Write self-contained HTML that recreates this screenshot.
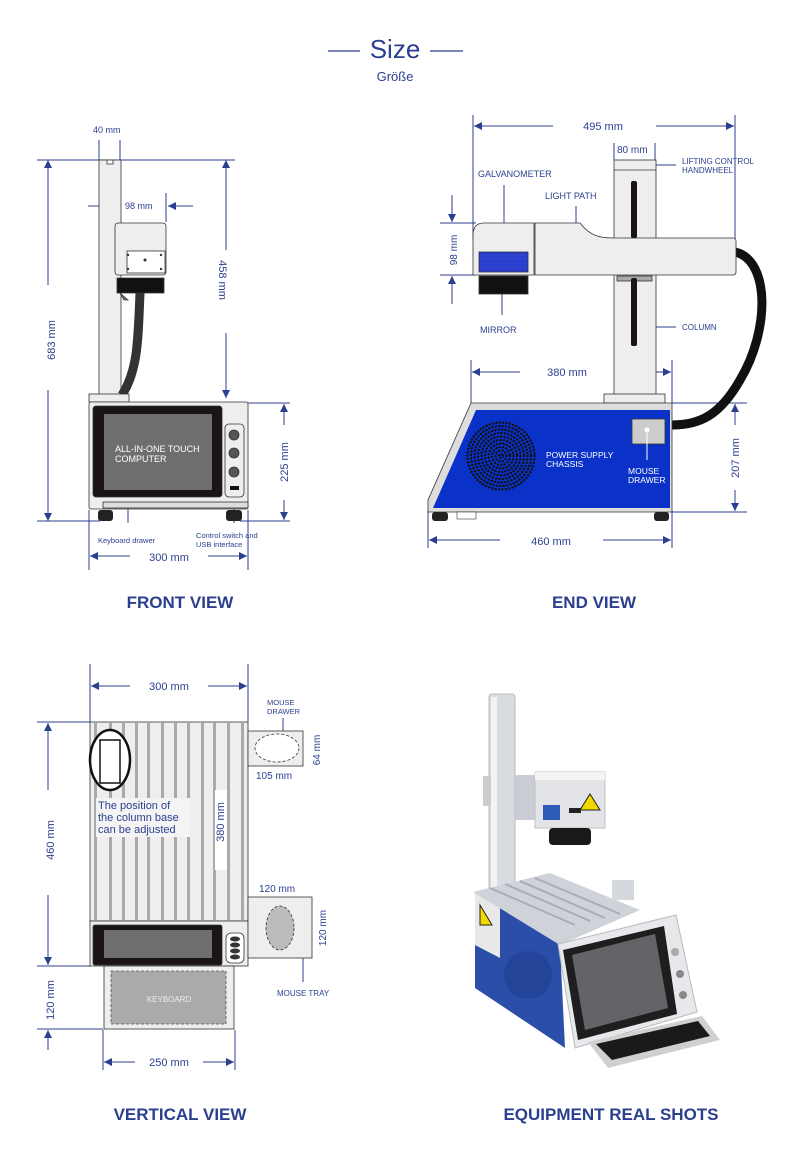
<!DOCTYPE html>
<html><head><meta charset="utf-8"><style>
html,body{margin:0;padding:0;background:#fff;}
svg{display:block;}
text{font-family:"Liberation Sans",sans-serif;}
</style></head><body>
<svg width="790" height="1168" viewBox="0 0 790 1168" xmlns="http://www.w3.org/2000/svg">
<defs>
<marker id="a" viewBox="0 0 10 10" refX="10" refY="5" markerWidth="10" markerHeight="8" markerUnits="userSpaceOnUse" orient="auto"><path d="M0,0 L10,5 L0,10 z" fill="#2b3f8f"/></marker>
</defs>
<rect width="790" height="1168" fill="#fff"/>
<!-- Title -->
<line x1="328" y1="51" x2="360" y2="51" stroke="#2b3f8f" stroke-width="1.2"/>
<line x1="430" y1="51" x2="463" y2="51" stroke="#2b3f8f" stroke-width="1.2"/>
<text x="395" y="58" font-size="26" fill="#2b3f8f" text-anchor="middle">Size</text>
<text x="395" y="81" font-size="13" fill="#2b3f8f" text-anchor="middle">Größe</text>

<g stroke="#2b3f8f" stroke-width="1" fill="none">
<!-- FRONT VIEW dims -->
<line x1="99" y1="140" x2="99" y2="160"/><line x1="120" y1="140" x2="120" y2="160"/>
<line x1="37" y1="160" x2="235" y2="160"/>
<line x1="48" y1="285" x2="48" y2="160" marker-end="url(#a)"/>
<line x1="48" y1="390" x2="48" y2="521" marker-end="url(#a)"/>
<line x1="37" y1="521" x2="100" y2="521"/><line x1="240" y1="521" x2="290" y2="521"/>
<line x1="88" y1="206" x2="113" y2="206" marker-end="url(#a)"/>
<line x1="193" y1="206" x2="168" y2="206" marker-end="url(#a)"/>
<line x1="166" y1="193" x2="166" y2="222"/>
<line x1="226" y1="250" x2="226" y2="160" marker-end="url(#a)"/>
<line x1="226" y1="333" x2="226" y2="398" marker-end="url(#a)"/>
<line x1="248" y1="403" x2="290" y2="403"/>
<line x1="284" y1="425" x2="284" y2="404" marker-end="url(#a)"/>
<line x1="284" y1="500" x2="284" y2="520" marker-end="url(#a)"/>
<line x1="89" y1="510" x2="89" y2="570"/><line x1="248" y1="510" x2="248" y2="570"/>
<line x1="130" y1="556" x2="90" y2="556" marker-end="url(#a)"/>
<line x1="208" y1="556" x2="247" y2="556" marker-end="url(#a)"/>
<line x1="128" y1="506" x2="128" y2="523"/><line x1="234" y1="490" x2="234" y2="523"/>

<!-- END VIEW dims -->
<line x1="473" y1="115" x2="473" y2="240"/><line x1="735" y1="115" x2="735" y2="240"/>
<line x1="553" y1="126" x2="474" y2="126" marker-end="url(#a)"/>
<line x1="656" y1="126" x2="734" y2="126" marker-end="url(#a)"/>
<line x1="614" y1="143" x2="614" y2="160"/><line x1="655" y1="143" x2="655" y2="160"/>
<line x1="647" y1="165" x2="676" y2="165"/>
<line x1="504" y1="185" x2="504" y2="234"/>
<line x1="576" y1="206" x2="576" y2="234"/>
<line x1="502" y1="287" x2="502" y2="315"/>
<line x1="647" y1="327" x2="676" y2="327"/>
<line x1="440" y1="223" x2="476" y2="223"/><line x1="440" y1="275" x2="476" y2="275"/>
<line x1="452" y1="195" x2="452" y2="222" marker-end="url(#a)"/>
<line x1="452" y1="304" x2="452" y2="276" marker-end="url(#a)"/>
<line x1="471" y1="360" x2="471" y2="403"/><line x1="672" y1="360" x2="672" y2="403"/>
<line x1="520" y1="372" x2="472" y2="372" marker-end="url(#a)"/>
<line x1="624" y1="372" x2="671" y2="372" marker-end="url(#a)"/>
<line x1="672" y1="403" x2="747" y2="403"/><line x1="672" y1="512" x2="747" y2="512"/>
<line x1="735" y1="425" x2="735" y2="404" marker-end="url(#a)"/>
<line x1="735" y1="490" x2="735" y2="511" marker-end="url(#a)"/>
<line x1="428" y1="510" x2="428" y2="548"/><line x1="672" y1="510" x2="672" y2="548"/>
<line x1="500" y1="540" x2="429" y2="540" marker-end="url(#a)"/>
<line x1="603" y1="540" x2="671" y2="540" marker-end="url(#a)"/>

<!-- VERTICAL VIEW dims -->
<line x1="90" y1="664" x2="90" y2="722"/><line x1="248" y1="664" x2="248" y2="722"/>
<line x1="130" y1="686" x2="91" y2="686" marker-end="url(#a)"/>
<line x1="208" y1="686" x2="247" y2="686" marker-end="url(#a)"/>
<line x1="37" y1="722" x2="90" y2="722"/>
<line x1="48" y1="790" x2="48" y2="723" marker-end="url(#a)"/>
<line x1="48" y1="895" x2="48" y2="965" marker-end="url(#a)"/>
<line x1="37" y1="966" x2="90" y2="966"/>
<line x1="37" y1="1029" x2="103" y2="1029"/>
<line x1="48" y1="1050" x2="48" y2="1030" marker-end="url(#a)"/>
<line x1="220" y1="770" x2="220" y2="725" marker-end="url(#a)"/>
<line x1="220" y1="875" x2="220" y2="920" marker-end="url(#a)"/>
<line x1="103" y1="1030" x2="103" y2="1070"/><line x1="235" y1="1030" x2="235" y2="1070"/>
<line x1="135" y1="1062" x2="104" y2="1062" marker-end="url(#a)"/>
<line x1="203" y1="1062" x2="234" y2="1062" marker-end="url(#a)"/>
<line x1="283" y1="718" x2="283" y2="746"/>
<line x1="303" y1="952" x2="303" y2="982"/>
</g>
<g fill="#2b3f8f">
<circle cx="128" cy="506" r="2.5"/><circle cx="234" cy="490" r="2.5"/>
<circle cx="647" cy="165" r="3"/><circle cx="647" cy="327" r="3"/>
<circle cx="504" cy="234" r="3"/><circle cx="576" cy="234" r="3"/><circle cx="502" cy="287" r="3"/>
<circle cx="283" cy="746" r="3"/><circle cx="303" cy="952" r="3"/>
</g>

<!-- FRONT VIEW drawing -->
<g stroke="#333" stroke-width="0.8">
<rect x="99" y="160" width="22" height="236" fill="#eee"/>
<rect x="107" y="160" width="6" height="4" fill="#fff"/>
<rect x="115" y="223" width="51" height="52" rx="3" fill="#eee"/>
<rect x="127" y="251" width="38" height="22" fill="#fff"/>
<path d="M117,278 H164 V293 H117 Z" fill="#111"/>
<path d="M120,293 L124,300 H128 Z" fill="#777"/>
</g>
<path d="M140,293 C138,340 138,370 122,395" stroke="#333" stroke-width="9" fill="none"/>
<g fill="#333"><circle cx="128" cy="255" r="1.2"/><circle cx="161" cy="255" r="1.2"/><circle cx="128" cy="269" r="1.2"/><circle cx="161" cy="269" r="1.2"/><circle cx="145" cy="260" r="1.5"/></g>
<g stroke="#333" stroke-width="0.8">
<rect x="89" y="394" width="40" height="8" fill="#eee"/>
<rect x="89" y="402" width="159" height="107" rx="2" fill="#eee"/>
<rect x="93" y="406" width="129" height="91" rx="3" fill="#1a1414"/>
<rect x="104" y="414" width="108" height="76" fill="#6e6e6e" stroke="none"/>
<rect x="225" y="424" width="19" height="73" rx="4" fill="#eee"/>
<circle cx="234" cy="435" r="5" fill="#555"/><circle cx="234" cy="453" r="5" fill="#555"/><circle cx="234" cy="472" r="5" fill="#555"/>
<rect x="103" y="502" width="145" height="6" fill="#ddd"/>
</g>
<rect x="230" y="486" width="9" height="4" fill="#111"/>
<rect x="98" y="510" width="15" height="11" rx="3" fill="#222"/><rect x="226" y="510" width="16" height="11" rx="3" fill="#222"/>
<text x="115" y="452" font-size="9" fill="#fff">ALL-IN-ONE TOUCH</text>
<text x="115" y="462" font-size="9" fill="#fff">COMPUTER</text>

<!-- END VIEW drawing -->
<path d="M735,252 C770,260 770,330 740,380 C720,415 700,425 672,425" stroke="#111" stroke-width="9" fill="none"/>
<g stroke="#333" stroke-width="0.8">
<rect x="614" y="160" width="42" height="236" fill="#eee"/>
<line x1="614" y1="170" x2="656" y2="170"/>
<path d="M535,223 H580 C590,236 600,238 613,238 H733 Q736,238 736,241 V272 Q736,275 733,275 H535 Z" fill="#eee"/>
<path d="M484,223 H534 V275 H473 V235 Q473,223 484,223 Z" fill="#eee"/>
<rect x="479" y="252" width="49" height="20" fill="#2a3fd0"/>
<rect x="479" y="276" width="49" height="18" fill="#111"/>
<rect x="617" y="276" width="35" height="5" fill="#aaa"/>
<rect x="604" y="394" width="61" height="9" fill="#eee"/>
<path d="M471,403 H672 V512 H428 V500 Z" fill="#ddd"/>
<path d="M476,410 H670 V508 H433 Z" fill="#0a32c8" stroke="none"/>
<rect x="632" y="419" width="33" height="25" fill="#ccc"/>
</g>
<rect x="631" y="181" width="6" height="57" rx="2" fill="#1a1414"/>
<rect x="631" y="278" width="6" height="68" rx="2" fill="#1a1414"/>
<g stroke="#3550d0" stroke-width="0.6"><line x1="480" y1="255" x2="527" y2="255"/><line x1="480" y1="259" x2="527" y2="259"/><line x1="480" y1="263" x2="527" y2="263"/><line x1="480" y1="267" x2="527" y2="267"/></g>
<g fill="none" stroke="#111" stroke-width="2.4" stroke-linecap="round" stroke-dasharray="0.1 3.3">
<circle cx="501" cy="456" r="2"/><circle cx="501" cy="456" r="5.5"/><circle cx="501" cy="456" r="9"/><circle cx="501" cy="456" r="12.5"/><circle cx="501" cy="456" r="16"/><circle cx="501" cy="456" r="19.5"/><circle cx="501" cy="456" r="23"/><circle cx="501" cy="456" r="26.5"/><circle cx="501" cy="456" r="30"/><circle cx="501" cy="456" r="33.5"/>
</g>
<circle cx="647" cy="430" r="2.5" fill="#fff"/><line x1="647" y1="430" x2="647" y2="460" stroke="#fff"/>
<rect x="432" y="512" width="16" height="9" rx="3" fill="#222"/><rect x="654" y="512" width="15" height="9" rx="3" fill="#222"/>
<rect x="457" y="512" width="19" height="7" fill="#fff" stroke="#333" stroke-width="0.6"/>
<text x="546" y="458" font-size="8.5" fill="#fff">POWER SUPPLY</text>
<text x="546" y="467" font-size="8.5" fill="#fff">CHASSIS</text>
<text x="628" y="474" font-size="8.5" fill="#fff">MOUSE</text>
<text x="628" y="483" font-size="8.5" fill="#fff">DRAWER</text>

<!-- VERTICAL VIEW drawing -->
<rect x="90" y="722" width="158" height="199" fill="#eee" stroke="#333" stroke-width="0.8"/>
<g fill="#aaa">
<rect x="94" y="723" width="3" height="197"/><rect x="109" y="723" width="3" height="197"/><rect x="122" y="723" width="3" height="197"/><rect x="135" y="723" width="3" height="197"/><rect x="147" y="723" width="3" height="197"/><rect x="161" y="723" width="3" height="197"/><rect x="174" y="723" width="3" height="197"/><rect x="187" y="723" width="3" height="197"/><rect x="201" y="723" width="3" height="197"/><rect x="213" y="723" width="3" height="197"/><rect x="227" y="723" width="3" height="197"/><rect x="241" y="723" width="3" height="197"/>
</g>
<rect x="96" y="798" width="94" height="39" fill="#f4f4f4"/>
<ellipse cx="110" cy="760" rx="20" ry="30" fill="#fff" stroke="#111" stroke-width="2.5"/>
<rect x="100" y="740" width="20" height="43" fill="#fff" stroke="#111" stroke-width="1.5"/>
<text x="98" y="809" font-size="11" fill="#2b3f8f">The position of</text>
<text x="98" y="821" font-size="11" fill="#2b3f8f">the column base</text>
<text x="98" y="833" font-size="11" fill="#2b3f8f">can be adjusted</text>
<rect x="215" y="790" width="12" height="80" fill="#fff"/>
<g stroke="#333" stroke-width="0.8">
<rect x="90" y="921" width="158" height="45" fill="#eee"/>
<rect x="93" y="925" width="129" height="40" rx="2" fill="#1a1414"/>
<rect x="104" y="930" width="108" height="28" fill="#6e6e6e" stroke="none"/>
<rect x="226" y="933" width="18" height="30" rx="5" fill="#fff"/>
<rect x="104" y="966" width="130" height="63" fill="#eee"/>
<rect x="248" y="731" width="55" height="35" fill="#eee"/>
<rect x="248" y="897" width="64" height="61" fill="#eee"/>
</g>
<g fill="#333"><ellipse cx="235" cy="939" rx="5" ry="2.5"/><ellipse cx="235" cy="945" rx="5" ry="2.5"/><ellipse cx="235" cy="951" rx="5" ry="2.5"/><ellipse cx="235" cy="957" rx="5" ry="2.5"/></g>
<rect x="111" y="971" width="115" height="53" fill="#aaa" stroke="#555" stroke-dasharray="3 2" stroke-width="0.8"/>
<text x="169" y="1002" font-size="8" fill="#eee" text-anchor="middle">KEYBOARD</text>
<ellipse cx="277" cy="748" rx="22" ry="14" fill="#fff" stroke="#333" stroke-dasharray="3 2" stroke-width="0.8"/>
<ellipse cx="280" cy="928" rx="14" ry="22" fill="#bbb" stroke="#333" stroke-dasharray="3 2" stroke-width="0.8"/>

<!-- REAL SHOT -->
<rect x="489" y="694" width="26" height="208" rx="3" fill="#d8dbe0" stroke="#bbb"/>
<rect x="491" y="697" width="6" height="200" fill="#f2f3f5"/>
<rect x="483" y="776" width="8" height="30" fill="#ccc"/>
<rect x="515" y="775" width="25" height="45" fill="#c9ccd2"/>
<rect x="535" y="772" width="70" height="56" fill="#e2e4e8" stroke="#c0c0c0"/>
<rect x="535" y="772" width="70" height="8" fill="#f3f3f3"/>
<rect x="543" y="805" width="17" height="15" fill="#2d5bb8"/>
<polygon points="590,794 600,810 580,810" fill="#f0d800" stroke="#222"/>
<rect x="569" y="808" width="12" height="5" fill="#222"/>
<rect x="549" y="828" width="42" height="17" rx="4" fill="#1a1a1a"/>
<polygon points="473,892 550,873 640,910 560,945" fill="#cfd3d9"/>
<g stroke="#a8adb5" stroke-width="2"><line x1="490" y1="888" x2="575" y2="925"/><line x1="505" y1="884" x2="590" y2="921"/><line x1="520" y1="881" x2="605" y2="918"/><line x1="535" y1="878" x2="620" y2="914"/></g>
<rect x="612" y="880" width="22" height="20" fill="#d5d8dc"/>
<polygon points="475,893 560,945 565,1048 475,988" fill="#2b4fa8"/>
<polygon points="475,893 500,908 500,958 475,945" fill="#e8e8e8"/>
<polygon points="480,905 492,925 480,925" fill="#f0d800" stroke="#222"/>
<circle cx="528" cy="975" r="24" fill="#24449a"/>
<polygon points="558,944 676,915 697,1012 575,1048" fill="#e6e8ec" stroke="#bbb"/>
<polygon points="563,950 664,926 677,1014 578,1040" fill="#1e1e1e"/>
<polygon points="572,955 655,934 668,1008 585,1030" fill="#626468"/>
<circle cx="675" cy="952" r="4" fill="#aaa"/><circle cx="680" cy="974" r="4" fill="#888"/><circle cx="683" cy="995" r="4" fill="#888"/>
<polygon points="588,1042 702,1016 720,1040 608,1068" fill="#d0d0d0"/>
<polygon points="596,1044 698,1021 710,1036 612,1060" fill="#1a1a1a"/>

<!-- labels -->
<g fill="#2b3f8f" font-size="10">
<text x="93" y="133" font-size="9">40 mm</text>
<text x="125" y="209" font-size="9">98 mm</text>
<text x="0" y="0" font-size="11" transform="translate(219,280) rotate(90)" text-anchor="middle">458 mm</text>
<text x="0" y="0" font-size="11" transform="translate(55,340) rotate(-90)" text-anchor="middle">683 mm</text>
<text x="0" y="0" font-size="11" transform="translate(288,462) rotate(-90)" text-anchor="middle">225 mm</text>
<text x="98" y="543" font-size="7.5">Keyboard drawer</text>
<text x="196" y="538" font-size="7.5">Control switch and</text>
<text x="196" y="547" font-size="7.5">USB interface</text>
<text x="169" y="561" font-size="11" text-anchor="middle">300 mm</text>
<text x="603" y="130" font-size="11" text-anchor="middle">495 mm</text>
<text x="617" y="153" font-size="10">80 mm</text>
<text x="682" y="164" font-size="8">LIFTING CONTROL</text>
<text x="682" y="173" font-size="8">HANDWHEEL</text>
<text x="478" y="177" font-size="9">GALVANOMETER</text>
<text x="545" y="199" font-size="9">LIGHT PATH</text>
<text x="480" y="333" font-size="9">MIRROR</text>
<text x="682" y="330" font-size="8">COLUMN</text>
<text x="0" y="0" font-size="10" transform="translate(457,250) rotate(-90)" text-anchor="middle">98 mm</text>
<text x="567" y="376" font-size="11" text-anchor="middle">380 mm</text>
<text x="0" y="0" font-size="11" transform="translate(739,458) rotate(-90)" text-anchor="middle">207 mm</text>
<text x="551" y="545" font-size="11" text-anchor="middle">460 mm</text>
<text x="169" y="690" font-size="11" text-anchor="middle">300 mm</text>
<text x="267" y="705" font-size="7.5">MOUSE</text>
<text x="267" y="714" font-size="7.5">DRAWER</text>
<text x="0" y="0" font-size="10" transform="translate(320,750) rotate(-90)" text-anchor="middle">64 mm</text>
<text x="256" y="779" font-size="10">105 mm</text>
<text x="0" y="0" font-size="11" transform="translate(224,822) rotate(-90)" text-anchor="middle">380 mm</text>
<text x="0" y="0" font-size="11" transform="translate(54,840) rotate(-90)" text-anchor="middle">460 mm</text>
<text x="0" y="0" font-size="11" transform="translate(54,1000) rotate(-90)" text-anchor="middle">120 mm</text>
<text x="259" y="892" font-size="10">120 mm</text>
<text x="0" y="0" font-size="10" transform="translate(326,928) rotate(-90)" text-anchor="middle">120 mm</text>
<text x="277" y="996" font-size="8">MOUSE TRAY</text>
<text x="169" y="1066" font-size="11" text-anchor="middle">250 mm</text>
</g>
<g fill="#2b3f8f" font-size="17" font-weight="bold" text-anchor="middle">
<text x="180" y="608">FRONT VIEW</text>
<text x="594" y="608">END VIEW</text>
<text x="180" y="1120">VERTICAL VIEW</text>
<text x="611" y="1120">EQUIPMENT REAL SHOTS</text>
</g>
</svg>
</body></html>
